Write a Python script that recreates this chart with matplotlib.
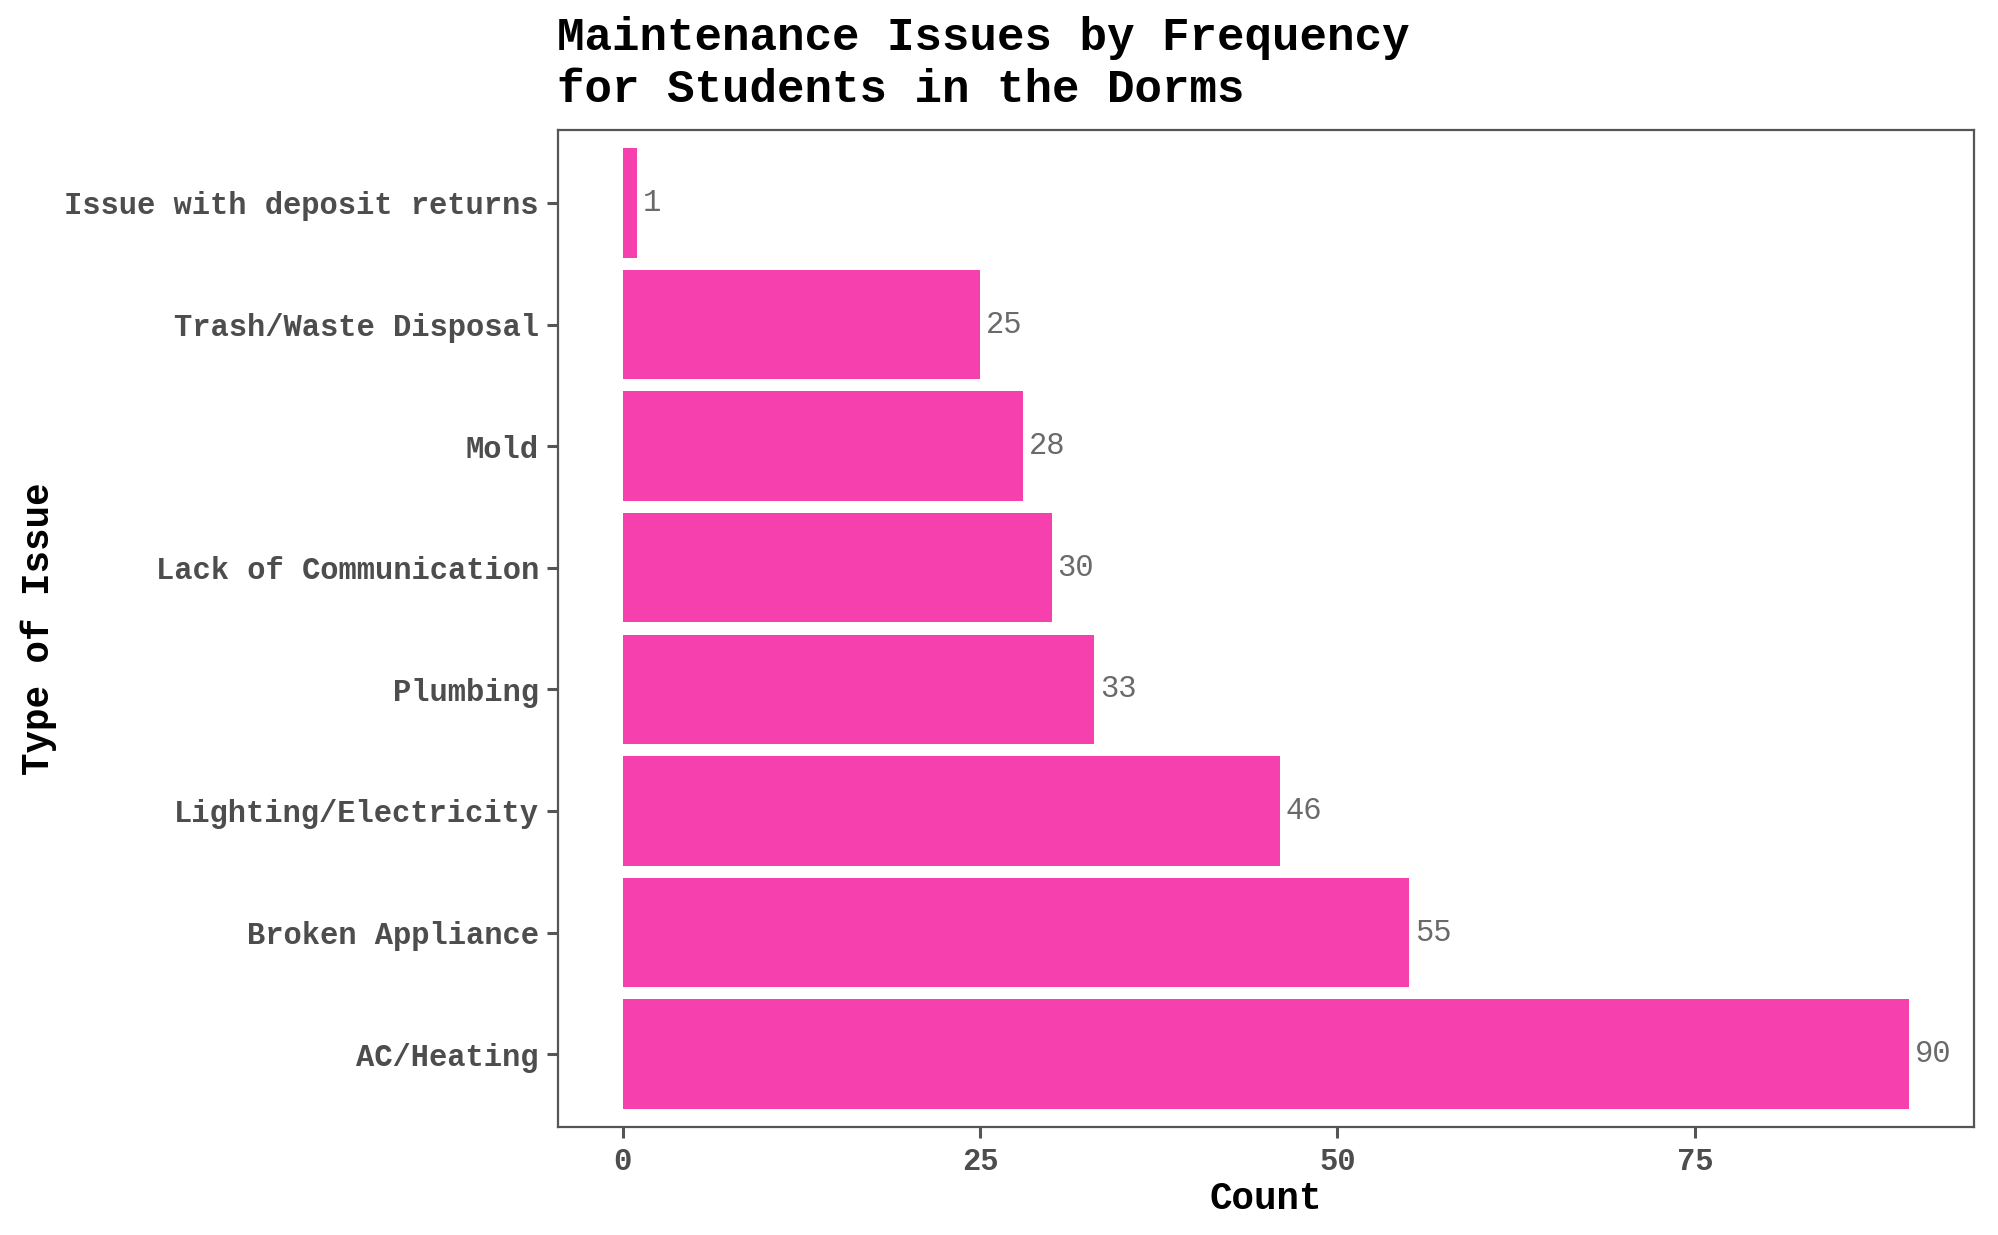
import matplotlib
matplotlib.use("Agg")
import matplotlib.pyplot as plt

categories = ["AC/Heating", "Broken Appliance", "Lighting/Electricity", "Plumbing",
              "Lack of Communication", "Mold", "Trash/Waste Disposal",
              "Issue with deposit returns"]
counts = [90, 55, 46, 33, 30, 28, 25, 1]
x_ticks = [0, 25, 50, 75]

FONT = "Liberation Mono"
fig = plt.figure(figsize=(19.99, 12.35), dpi=100)
ax = fig.add_axes([0.2793, 0.0874, 0.9873 - 0.2793, 0.8947 - 0.0874])

pos = list(range(1, len(categories) + 1))
ax.barh(pos, counts, height=0.9, color="#F640AD", edgecolor="none")
for p, v in zip(pos, counts):
    ax.text(v + 0.4, p, str(v), va="center", ha="left", fontsize=22,
            family=FONT, color="#6a6a6a")

ax.set_xlim(-4.5, 94.5)
ax.set_ylim(0.4, len(categories) + 0.6)
ax.set_yticks(pos)
ax.set_yticklabels(categories, family=FONT, fontweight="bold", fontsize=22, color="#4d4d4d")
ax.set_xticks(x_ticks)
ax.set_xticklabels([str(t) for t in x_ticks], family=FONT, fontweight="bold",
                   fontsize=22, color="#4d4d4d")
ax.tick_params(axis="both", direction="out", length=8, width=2.2, color="#555555", pad=6)

for s in ax.spines.values():
    s.set_color("#555555")
    s.set_linewidth(1.6)

ax.set_xlabel("Count", family=FONT, fontweight="bold", fontsize=27, color="black", labelpad=3)
ax.set_ylabel("Type of Issue", family=FONT, fontweight="bold", fontsize=27, color="black")
ax.yaxis.set_label_coords(-0.354, 0.5)

fig.text(0.2788, 1 - 16 / 1235, "Maintenance Issues by Frequency\nfor Students in the Dorms",
         family=FONT, fontweight="bold", fontsize=33, color="black",
         ha="left", va="top", linespacing=1.25)

fig.savefig("out.png", dpi=100, facecolor="white")
